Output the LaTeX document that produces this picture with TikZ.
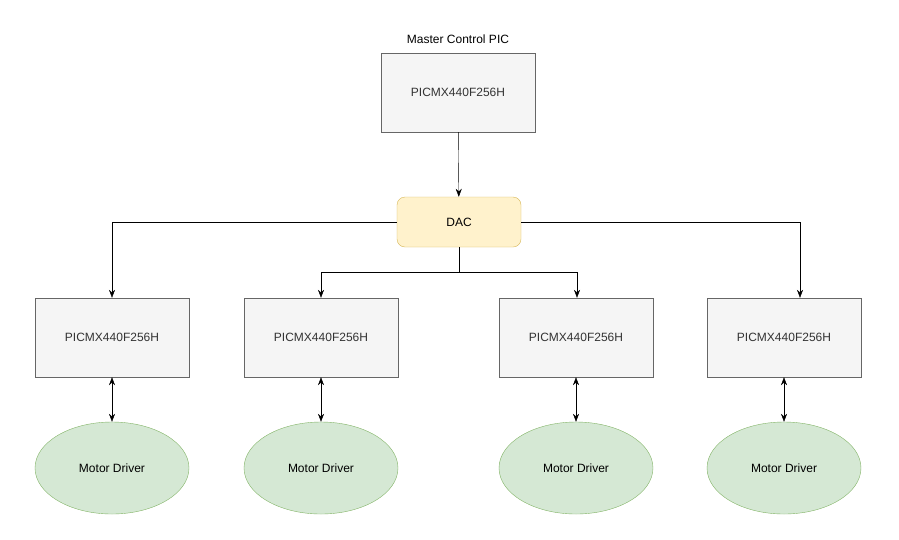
\documentclass[tikz,border=0pt]{standalone}
\usepackage{fontspec}
\setmainfont{Liberation Sans}
\usetikzlibrary{arrows.meta,shapes.geometric}
\definecolor{gfill}{HTML}{F5F5F5}\definecolor{gdraw}{HTML}{666666}
\definecolor{yfill}{HTML}{FFF2CC}\definecolor{ydraw}{HTML}{D6B656}
\definecolor{efill}{HTML}{D5E8D4}\definecolor{edraw}{HTML}{82B366}
\definecolor{txt}{HTML}{333333}
\begin{document}
\begin{tikzpicture}[x=1pt,y=-1pt,font=\fontsize{12}{14}\selectfont,
 pbox/.style={draw=gdraw,fill=gfill,minimum width=154pt,minimum height=79pt,text=txt},
 dac/.style={draw=ydraw,fill=yfill,rounded corners=8pt,minimum width=124pt,minimum height=50pt},
 md/.style={draw=edraw,fill=efill,ellipse,minimum width=154pt,minimum height=92pt},
 arr/.style={draw,-{Stealth[length=8pt,width=6pt]}},
 darr/.style={draw,{Stealth[length=8pt,width=6pt]}-{Stealth[length=8pt,width=6pt]}}]
\useasboundingbox (0,0) rectangle (899,539);
\node[pbox] (m) at (458,92.5) {PICMX440F256H};
\node[anchor=south] (ml) at (458,47) {Master Control PIC};
\node[dac] (d) at (459,222) {DAC};
\foreach \i/\x in {1/112,2/321,3/576,4/784}{
 \node[pbox] (b\i) at (\x,337.5) {PICMX440F256H};
 \node[md] (e\i) at (\x,468) {Motor Driver};
 \draw[darr] (b\i) -- (e\i);
}
\draw[arr] (m) -- (d);
\draw[arr] (d.west) -| (b1.north);
\draw[arr] (d.east) -| ([xshift=16pt]b4.north);
\coordinate (j) at (459,272);
\draw (d.south) -- (j);
\draw[arr] (j) -| (b2.north);
\draw[arr] (j) -| ([xshift=1pt]b3.north);
\end{tikzpicture}
\end{document}
